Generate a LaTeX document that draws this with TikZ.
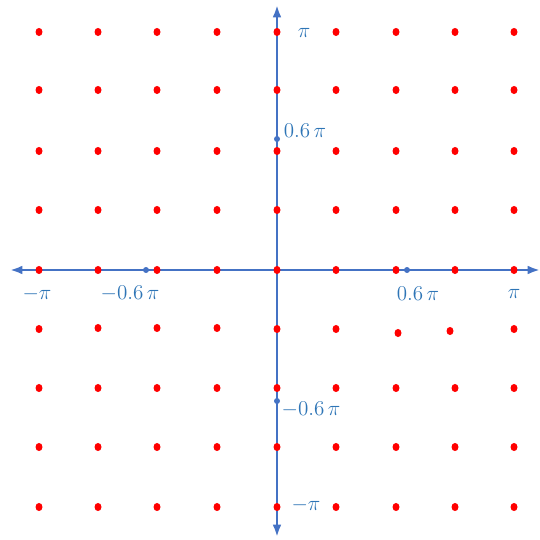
\documentclass[tikz,border=0pt]{standalone}
\usepackage{amsmath,amssymb}
\usepackage{xcolor}
\usepackage{tikz}
\usetikzlibrary{arrows.meta}

\definecolor{axisblue}{RGB}{68,114,196}
\definecolor{labelblue}{RGB}{46,117,182}

\tikzset{
  latt/.style={fill=red},
  tick/.style={fill=axisblue},
  axis/.style={axisblue, line width=1.4pt, {Latex[length=7pt,width=5pt]}-{Latex[length=7pt,width=5pt]}},
  lbl/.style={text=labelblue, font=\large}
}

\begin{document}
\begin{tikzpicture}[x=0.02cm, y=-0.02cm]
                \useasboundingbox (0,0) rectangle (540,540);
                % axes
                \coordinate (xl) at (10,270);
                \coordinate (xr) at (540,270);
                \coordinate (yt) at (277,5);
                \coordinate (yb) at (277,537);
                \draw[axis] (xl) -- (xr);
                \draw[axis] (yt) -- (yb);
                % lattice points
                \foreach \y in {32,90,151,210,270,388,447,507}
                \foreach \x in {39,98,157,217,277,336,396,455,514}
                \fill[latt] (\x,\y) ellipse (3.5 and 4.1);
                \foreach \x/\y in {39/329, 98/328, 157/328, 217/328, 277/329, 336/329, 398/333, 450/331, 514/329}
                \fill[latt] (\x,\y) ellipse (3.5 and 4.1);
                % ticks at 0.6 pi
                \foreach \x/\y in {146/270, 407/270, 277/139, 277/401}
                \fill[tick] (\x,\y) circle (3);
                \node[lbl] (pt) at (304,33) {$\pi$};
                \node[lbl] (pq) at (305,131) {$0.6\,\pi$};
                \node[lbl] (mq) at (311,410) {$-0.6\,\pi$};
                \node[lbl] (mt) at (306,505) {$-\pi$};
                \node[lbl] (ml) at (37,294) {$-\pi$};
                \node[lbl] (mr) at (130,294) {$-0.6\,\pi$};
                \node[lbl] (ql) at (418,294) {$0.6\,\pi$};
                \node[lbl] (qr) at (514,294) {$\pi$};
            \end{tikzpicture}
\end{document}
